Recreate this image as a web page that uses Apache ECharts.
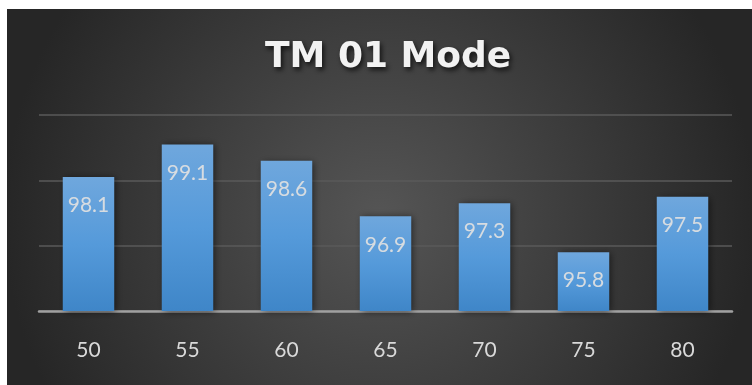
<!DOCTYPE html>
<html>
<head>
<meta charset="utf-8">
<script src="https://cdn.jsdelivr.net/npm/echarts@6/dist/echarts.min.js"></script>
<style>
  html, body { margin: 0; padding: 0; background: #ffffff; }
  #chart { width: 752px; height: 385px; }
</style>
</head>
<body>
<div id="chart"></div>
<script>
// Mode efficiency per category
const categories = ['50', '55', '60', '65', '70', '75', '80'];
const values = [98.1, 99.1, 98.6, 96.9, 97.3, 95.8, 97.5];
const titleText = 'TM 01 Mode';

const FONT = 'Lato, "Open Sans", sans-serif';

const chart = echarts.init(document.getElementById('chart'), null, { renderer: 'canvas' });

chart.setOption({
  backgroundColor: '#ffffff',
  animation: false,
  graphic: [{
    type: 'rect',
    z: -10,
    silent: true,
    shape: { x: 7, y: 9, width: 745, height: 376 },
    style: {
      fill: {
        type: 'radial', x: 0.5, y: 0.55, r: 1.0,
        colorStops: [
          { offset: 0, color: '#555555' },
          { offset: 1, color: '#262626' }
        ]
      }
    }
  }],
  title: {
    text: titleText,
    left: 260,
    top: 35,
    textStyle: {
      fontFamily: '"DejaVu Sans", sans-serif',
      fontWeight: 'bold',
      fontSize: 36,
      color: '#f2f2f2',
      textShadowColor: 'rgba(0,0,0,0.7)',
      textShadowBlur: 5,
      textShadowOffsetX: 2,
      textShadowOffsetY: 3
    }
  },
  grid: { left: 39, right: 20, top: 115, bottom: 74, containLabel: false },
  xAxis: {
    type: 'category',
    data: categories,
    axisTick: { show: false },
    axisLine: { lineStyle: { color: '#a0a0a0', width: 2.5 } },
    axisLabel: { color: '#d9d9d9', fontSize: 21, fontFamily: FONT, margin: 29 }
  },
  yAxis: {
    type: 'value',
    min: 94,
    max: 100,
    interval: 2,
    axisLabel: { show: false },
    axisLine: { show: false },
    axisTick: { show: false },
    splitLine: { lineStyle: { color: '#5a5a5a', width: 1.5 } }
  },
  series: [{
    type: 'bar',
    data: values,
    barWidth: '52%',
    itemStyle: {
      color: {
        type: 'linear', x: 0, y: 0, x2: 0, y2: 1,
        colorStops: [
          { offset: 0, color: '#6fa7dd' },
          { offset: 0.5, color: '#559ada' },
          { offset: 1, color: '#3f86c8' }
        ]
      },
      shadowColor: 'rgba(0,0,0,0.55)',
      shadowBlur: 7,
      shadowOffsetX: 2,
      shadowOffsetY: 1
    },
    label: {
      show: true,
      position: 'insideTop',
      distance: 18,
      color: 'rgba(225,225,225,0.92)',
      fontSize: 21,
      fontFamily: FONT,
      formatter: p => p.value.toFixed(1)
    }
  }]
});
</script>
</body>
</html>
